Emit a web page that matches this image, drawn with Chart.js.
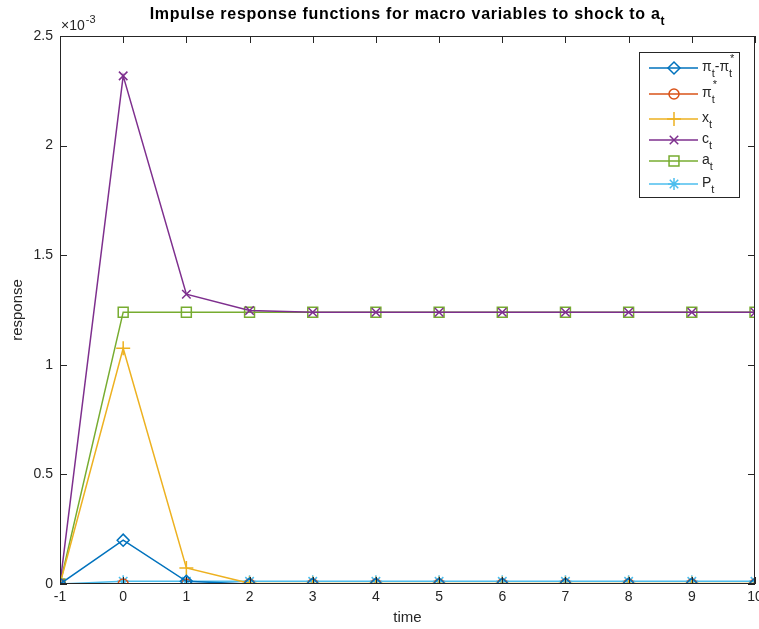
<!DOCTYPE html>
<html>
<head>
<meta charset="utf-8">
<script src="https://cdn.jsdelivr.net/npm/chart.js@4/dist/chart.umd.min.js"></script>
<style>
  html, body { margin: 0; padding: 0; background: #fff; }
  #wrap { width: 759px; height: 629px; }
</style>
</head>
<body>
<div id="wrap"><canvas id="irf"></canvas></div>
<script>
// periods after the shock
const periods = [-1, 0, 1, 2, 3, 4, 5, 6, 7, 8, 9, 10];

// responses, in units of 1e-3
const piGap  = [0, 0.200, 0.012, 0, 0, 0, 0, 0, 0, 0, 0, 0];
const piStar = [0, 0, 0, 0, 0, 0, 0, 0, 0, 0, 0, 0];
const xGap   = [0, 1.075, 0.073, 0.003, 0.002, 0.002, 0.002, 0.002, 0.002, 0.002, 0.002, 0.002];
const cons   = [0, 2.318, 1.322, 1.248, 1.240, 1.240, 1.240, 1.240, 1.240, 1.240, 1.240, 1.240];
const tech   = [0, 1.240, 1.240, 1.240, 1.240, 1.240, 1.240, 1.240, 1.240, 1.240, 1.240, 1.240];
const price  = [0, 0.013, 0.013, 0.012, 0.012, 0.012, 0.012, 0.012, 0.012, 0.012, 0.012, 0.012];

const yTicks = [0, 0.5, 1, 1.5, 2, 2.5];
const xTicks = [-1, 0, 1, 2, 3, 4, 5, 6, 7, 8, 9, 10];

// legend text: [string, 'n' | 'sub' | 'subsup']
const legendText = [
  [['π', 'n'], ['t', 'sub'], ['-π', 'n'], ['t', 'subsup']],
  [['π', 'n'], ['t', 'subsup']],
  [['x', 'n'], ['t', 'sub']],
  [['c', 'n'], ['t', 'sub']],
  [['a', 'n'], ['t', 'sub']],
  [['P', 'n'], ['t', 'sub']]
];

const FONT = "'Liberation Sans', Arial, Helvetica, sans-serif";
const INK = '#262626';

function series(vals, color, style, r) {
  return {
    data: periods.map((t, i) => ({x: t, y: vals[i]})),
    borderColor: color,
    backgroundColor: color,
    borderWidth: 1.5,
    pointStyle: style,
    pointRadius: r,
    pointBorderColor: color,
    pointBackgroundColor: 'rgba(0,0,0,0)',
    pointBorderWidth: 1.5,
    tension: 0
  };
}

const datasets = [
  series(piGap, '#0072BD', 'rectRot', 6),
  series(piStar, '#D95319', 'circle', 5),
  series(xGap, '#EDB120', 'cross', 7),
  series(cons, '#7E2F8E', 'crossRot', 6),
  series(tech, '#77AC30', 'rect', 7),
  series(price, '#4DBEEE', 'star', 6)
];

// box, inward ticks, exponent, title and legend
const matlabAxes = {
  id: 'matlabAxes',
  afterDraw(chart) {
    const ctx = chart.ctx;
    const a = chart.chartArea;
    const xs = chart.scales.x, ys = chart.scales.y;
    ctx.save();
    ctx.strokeStyle = INK;
    ctx.lineWidth = 1;
    ctx.strokeRect(a.left + 0.5, a.top + 0.5, a.right - a.left - 1, a.bottom - a.top - 1);
    ctx.beginPath();
    xTicks.forEach(v => {
      const px = Math.round(xs.getPixelForValue(v)) + 0.5;
      ctx.moveTo(px, a.bottom); ctx.lineTo(px, a.bottom - 7);
      ctx.moveTo(px, a.top); ctx.lineTo(px, a.top + 7);
    });
    yTicks.forEach(v => {
      const py = Math.round(ys.getPixelForValue(v)) + 0.5;
      ctx.moveTo(a.left, py); ctx.lineTo(a.left + 7, py);
      ctx.moveTo(a.right, py); ctx.lineTo(a.right - 7, py);
    });
    ctx.stroke();

    // exponent of the y axis
    ctx.fillStyle = INK;
    ctx.textBaseline = 'alphabetic';
    ctx.textAlign = 'left';
    ctx.font = '14px ' + FONT;
    ctx.fillText('×10', a.left + 1, 30);
    const w10 = ctx.measureText('×10').width;
    ctx.font = '11px ' + FONT;
    ctx.fillText('-3', a.left + 1 + w10 + 1, 23);

    // title with subscripted a_t
    const main = 'Impulse response functions for macro variables to shock to a';
    ctx.font = 'bold 16px ' + FONT;
    const plain = ctx.measureText(main).width;
    const spacing = Math.max(0, (511 - plain) / main.length);
    ctx.letterSpacing = spacing.toFixed(2) + 'px';
    const wMain = ctx.measureText(main).width;
    ctx.font = 'bold 12px ' + FONT;
    const wSub = ctx.measureText('t').width;
    const tx = (a.left + a.right) / 2 - (wMain + wSub) / 2;
    ctx.fillStyle = '#000';
    ctx.font = 'bold 16px ' + FONT;
    ctx.fillText(main, tx, 19);
    ctx.font = 'bold 12px ' + FONT;
    ctx.fillText('t', tx + wMain, 25);
    ctx.letterSpacing = '0px';

    // legend
    const lx = 639, ly = 52, lw = 100, lh = 145;
    ctx.fillStyle = '#fff';
    ctx.fillRect(lx, ly, lw, lh);
    ctx.strokeStyle = INK;
    ctx.lineWidth = 1;
    ctx.strokeRect(lx + 0.5, ly + 0.5, lw, lh);
    const rows = [68, 94, 119, 140, 161, 184];
    chart.data.datasets.forEach((ds, i) => {
      const y = rows[i];
      ctx.strokeStyle = ds.borderColor;
      ctx.lineWidth = 1.5;
      ctx.beginPath();
      ctx.moveTo(649, y); ctx.lineTo(698, y);
      ctx.stroke();
      ctx.fillStyle = 'rgba(0,0,0,0)';
      Chart.helpers.drawPoint(ctx, {
        pointStyle: ds.pointStyle, radius: ds.pointRadius, rotation: 0, borderWidth: 1.5
      }, 674, y);
      ctx.fillStyle = INK;
      let x = 702;
      legendText[i].forEach(([s, mode]) => {
        if (mode === 'n') {
          ctx.font = '14px ' + FONT;
          ctx.fillText(s, x, y + 3);
          x += ctx.measureText(s).width;
        } else if (mode === 'sub') {
          ctx.font = '11px ' + FONT;
          ctx.fillText(s, x, y + 9);
          x += ctx.measureText(s).width;
        } else {
          ctx.font = '11px ' + FONT;
          ctx.fillText(s, x, y + 9);
          ctx.fillText('*', x + 1, y - 6);
          x += ctx.measureText(s).width;
        }
      });
    });
    ctx.restore();
  }
};

new Chart(document.getElementById('irf'), {
  type: 'line',
  data: { datasets: datasets },
  plugins: [matlabAxes],
  options: {
    responsive: true,
    maintainAspectRatio: false,
    animation: false,
    layout: { autoPadding: false, padding: { left: 0, top: 36, right: 4, bottom: 0 } },
    plugins: { legend: { display: false }, title: { display: false }, tooltip: { enabled: false } },
    scales: {
      x: {
        type: 'linear', min: -1, max: 10,
        afterBuildTicks: s => { s.ticks = xTicks.map(v => ({value: v})); },
        ticks: { color: INK, font: { family: FONT, size: 14 }, padding: 5, maxRotation: 0, autoSkip: false },
        grid: { display: false, drawTicks: false },
        border: { display: false },
        title: { display: true, text: 'time', color: INK, font: { family: FONT, size: 15 }, padding: { top: 2, bottom: 2 } },
        afterFit: s => { s.height = 45; s.paddingLeft = 0; s.paddingRight = 0; }
      },
      y: {
        min: 0, max: 2.5,
        afterBuildTicks: s => { s.ticks = yTicks.map(v => ({value: v})); },
        ticks: { color: INK, font: { family: FONT, size: 14 }, padding: 7, callback: v => String(v) },
        grid: { display: false, drawTicks: false },
        border: { display: false },
        title: { display: true, text: 'response', color: INK, font: { family: FONT, size: 15 }, padding: { top: 9, bottom: 0 } },
        afterFit: s => { s.width = 60; s.paddingTop = 0; s.paddingBottom = 0; }
      }
    }
  }
});
</script>
</body>
</html>
